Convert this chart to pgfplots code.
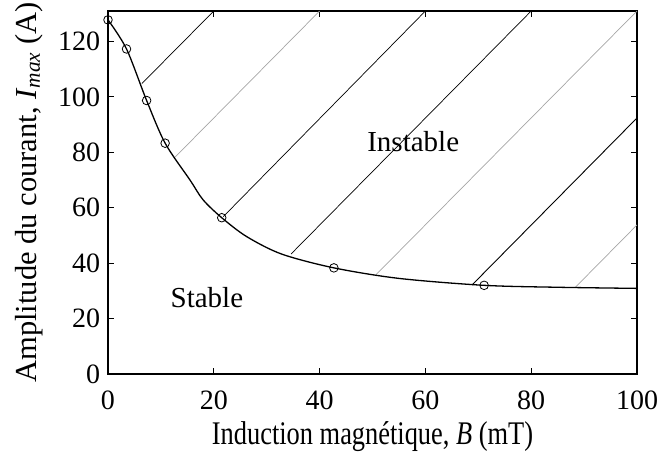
\documentclass[border=0pt]{standalone}
\usepackage{fontspec}
\setmainfont{Liberation Serif}
\newfontfamily\condfont{Liberation Serif}[FakeStretch=0.8]
\usepackage{pgfplots}
\pgfplotsset{compat=1.18}
\begin{document}
\fontsize{29}{34}\selectfont
\begin{tikzpicture}
\begin{axis}[
 name=ax,
 scale only axis, width=529pt, height=363pt,
 xmin=0,xmax=100,ymin=0,ymax=131,
 xtick={0,20,...,100}, ytick={0,20,...,120},
 tick align=inside, major tick length=6pt,
 tick style={black, line width=0.8pt},
 axis line style={line width=1.2pt},
 /pgf/number format/assume math mode=true,
 tick label style={font=\fontsize{28}{33}\selectfont},
 xticklabel style={yshift=-7pt},
 yticklabel style={xshift=2pt},
 xlabel style={font=\condfont\fontsize{33}{38}\selectfont, yshift=8pt},
 ylabel style={font=\fontsize{30.5}{36}\selectfont, yshift=-4pt},
 xlabel={Induction magnétique, \textit{B} (mT)},
 ylabel={Amplitude du courant, \textit{I}\textsubscript{\textit{max}} (A)},
]
\addplot[black, line width=0.7pt] coordinates {(6.4,104.8) (20,131)};
\addplot[gray!70, line width=0.7pt] coordinates {(12.7,78.3) (40,131)};
\addplot[black, line width=0.7pt] coordinates {(21.8,56.8) (60,131)};
\addplot[black, line width=0.7pt] coordinates {(34.6,43.3) (80,131)};
\addplot[gray!70, line width=0.7pt] coordinates {(50.6,35.7) (100,131)};
\addplot[black, line width=0.9pt] coordinates {(68.8,32.1) (100,92.4)};
\addplot[gray!70, line width=0.7pt] coordinates {(88.3,31.2) (100,53.8)};
\addplot[black, line width=1.3pt, smooth] coordinates {
(0,127.8) (3.5,117.3) (7.3,98.7) (10.8,83.3) (15.5,70) (18,62.8) (21.5,56.4)
(26.2,49.6) (32.8,43.3) (42.7,38.3) (55,34.5) (71.1,32) (85,31.3) (100,30.9)};
\addplot[black, only marks, mark=o, mark size=4.3pt, mark options={line width=0.8pt}] coordinates {
(0,127.8) (3.5,117.3) (7.3,98.7) (10.8,83.3) (21.5,56.4) (42.7,38.3) (71.1,32)};
\node at (axis cs:57.7,84) {Instable};
\node at (axis cs:18.7,27.4) {Stable};
\end{axis}
\pgfresetboundingbox
\path[use as bounding box] ([xshift=-108pt,yshift=-81pt]ax.south west) rectangle ([xshift=26pt,yshift=11pt]ax.north east);
\end{tikzpicture}
\end{document}
